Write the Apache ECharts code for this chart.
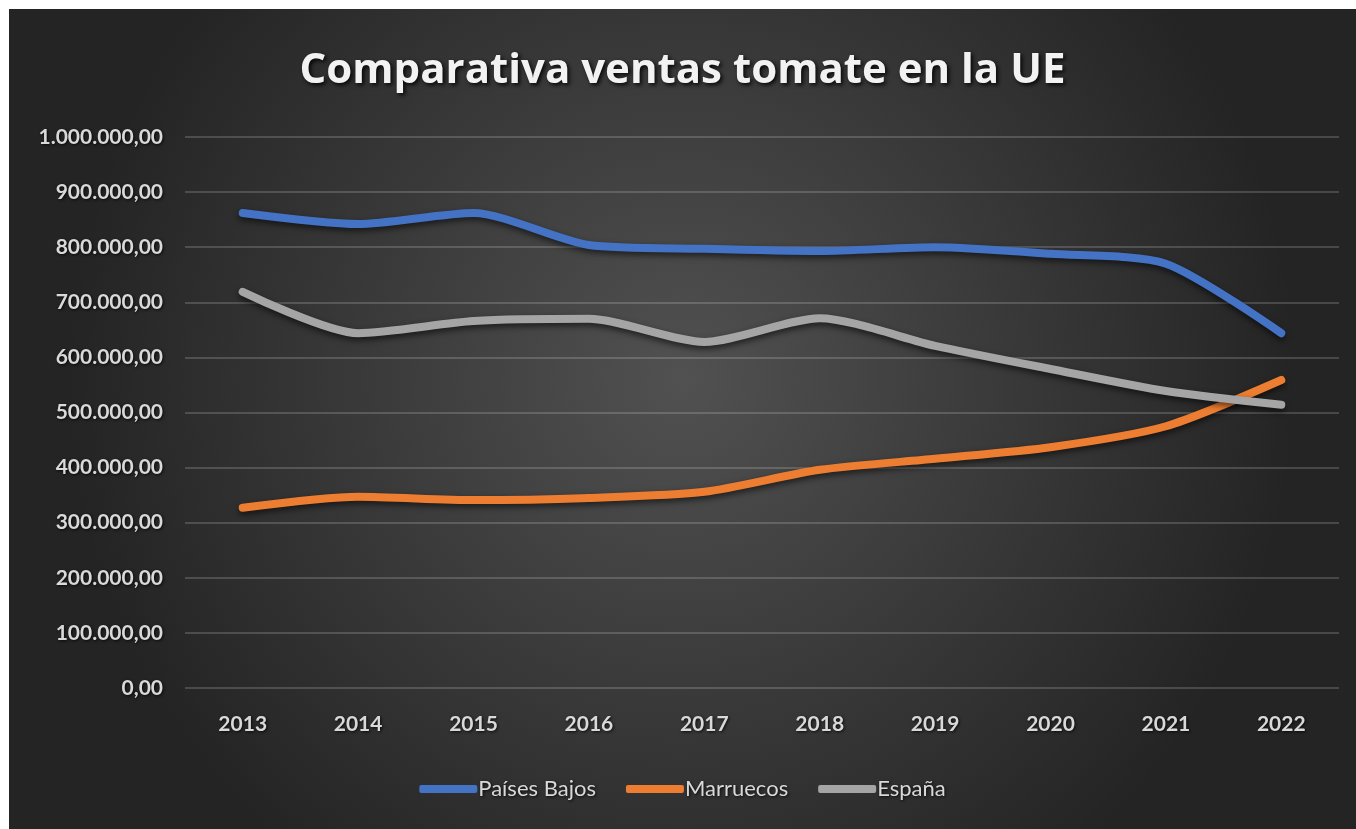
<!DOCTYPE html>
<html>
<head>
<meta charset="utf-8">
<script src="https://cdn.jsdelivr.net/npm/echarts@6/dist/echarts.min.js"></script>
<style>
html,body{margin:0;padding:0;background:#fff;}
#c{position:absolute;left:9px;top:9px;width:1347px;height:820px;}
</style>
</head>
<body>
<div id="c"></div>
<script>
const years = ['2013','2014','2015','2016','2017','2018','2019','2020','2021','2022'];
const paisesBajos = [862000, 842000, 862000, 804000, 797000, 793000, 800000, 788000, 770000, 644000];
const marruecos   = [327000, 347000, 341000, 345000, 356000, 396000, 416000, 437000, 475000, 559000];
const espana      = [719000, 644000, 666000, 670000, 628000, 671000, 621000, 579000, 539000, 514000];
const seriesNames = ['Países Bajos', 'Marruecos', 'España'];
const colors = ['#4472C4', '#ED7D31', '#A5A5A5'];

function fmt(v){
  const parts = Math.round(v).toString().replace(/\B(?=(\d{3})+(?!\d))/g, '.');
  return parts + ',00';
}

const chart = echarts.init(document.getElementById('c'));
const font = 'Lato, "Open Sans", sans-serif';
const shadowTxt = {textShadowColor:'rgba(0,0,0,0.8)', textShadowBlur:3, textShadowOffsetX:1, textShadowOffsetY:1};
function mk(name, data, color){
  return {
    name, type:'line', data, smooth:0.25, symbol:'none',
    lineStyle:{width:8, color, cap:'round', join:'round',
      shadowBlur:6, shadowColor:'rgba(0,0,0,0.6)', shadowOffsetY:3},
    itemStyle:{color}
  };
}
chart.setOption({
  backgroundColor:{type:'radial', x:0.5, y:0.45, r:0.75,
    colorStops:[{offset:0,color:'#515151'},{offset:1,color:'#242424'}]},
  title:{text:'Comparativa ventas tomate en la UE', left:'center', top:36,
    textStyle:Object.assign({color:'#f2f2f2', fontFamily:'"Open Sans", sans-serif', fontWeight:'bold', fontSize:42},
      {textShadowColor:'rgba(0,0,0,0.9)', textShadowBlur:4, textShadowOffsetX:2, textShadowOffsetY:2})},
  legend:{bottom:24, left:'center', itemWidth:58, itemHeight:8, itemGap:30, icon:'roundRect',
    textStyle:Object.assign({color:'#d9d9d9', fontFamily:font, fontSize:22, padding:[0,0,0,-4]}, shadowTxt),
    data:seriesNames},
  grid:{left:176, right:17, top:128, bottom:141, containLabel:false},
  xAxis:{type:'category', data:years, boundaryGap:true,
    axisLine:{show:false}, axisTick:{show:false},
    axisLabel:Object.assign({color:'#d9d9d9', fontFamily:font, fontWeight:'bold', fontSize:21, margin:26}, shadowTxt)},
  yAxis:{type:'value', min:0, max:1000000, interval:100000,
    axisLine:{show:false}, axisTick:{show:false},
    splitLine:{lineStyle:{color:'rgba(255,255,255,0.17)', width:2}},
    axisLabel:Object.assign({color:'#d9d9d9', fontFamily:font, fontWeight:'bold', fontSize:21, margin:22, formatter:fmt}, shadowTxt)},
  series:[mk(seriesNames[0], paisesBajos, colors[0]), mk(seriesNames[1], marruecos, colors[1]), mk(seriesNames[2], espana, colors[2])]
});
</script>
</body>
</html>
